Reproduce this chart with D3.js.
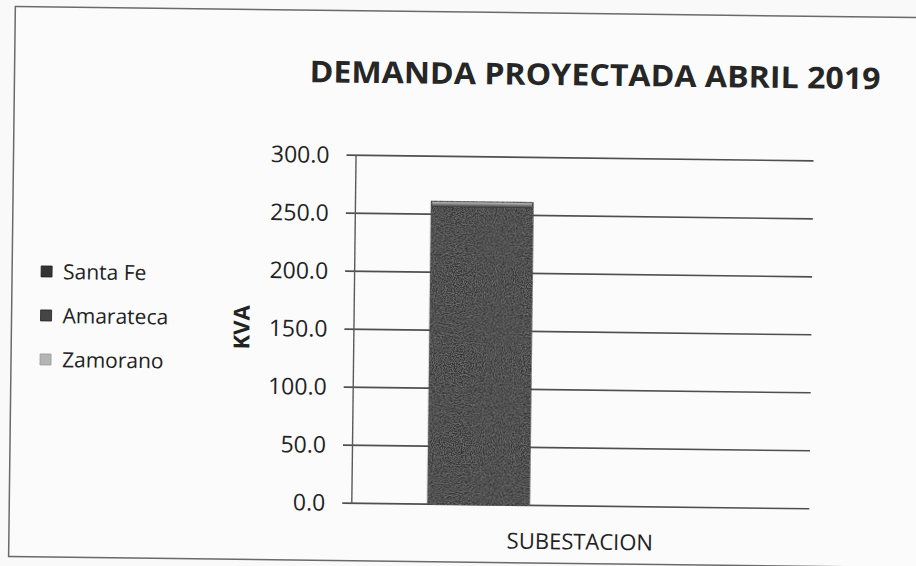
<!DOCTYPE html>
<html>
<head>
<meta charset="utf-8">
<script src="https://cdn.jsdelivr.net/npm/d3@7"></script>
<style>
  body { margin: 0; background: #f9f9f9; }
  text { font-family: "Open Sans", "DejaVu Sans", sans-serif; fill: #222; }
</style>
</head>
<body>
<div id="canvas"></div>
<script>
// chart data
var categories = ['SUBESTACION']
var seriesNames = ['Santa Fe', 'Amarateca', 'Zamorano']
var santaFe = [261]
var amarateca = [0]
var zamorano = [0]
var yTicks = [0, 50, 100, 150, 200, 250, 300]
var seriesColors = ['#343434', '#454545', '#b4b4b4']

var seriesValues = [santaFe, amarateca, zamorano]

var W = 916, H = 566
var svg = d3.select('#canvas').append('svg')
    .attr('width', W)
    .attr('height', H)

var defs = svg.append('defs')
// scan grain for the bar
var grain = defs.append('filter').attr('id', 'grain')
grain.append('feTurbulence').attr('type', 'fractalNoise').attr('baseFrequency', 0.9).attr('numOctaves', 2).attr('seed', 3).attr('result', 'noise')
grain.append('feColorMatrix').attr('in', 'noise').attr('type', 'matrix')
    .attr('values', '0 0 0 0 0.5  0 0 0 0 0.5  0 0 0 0 0.5  0 0 0 0.7 -0.25').attr('result', 'speck')
grain.append('feComposite').attr('in', 'speck').attr('in2', 'SourceGraphic').attr('operator', 'in').attr('result', 'clip')
grain.append('feMerge').selectAll('feMergeNode').data(['SourceGraphic', 'clip']).join('feMergeNode').attr('in', d => d)

var grad = defs.append('linearGradient').attr('id', 'bevel').attr('x1', 0).attr('x2', 0).attr('y1', 0).attr('y2', 1)
grad.append('stop').attr('offset', '0%').attr('stop-color', '#bdbdbd')
grad.append('stop').attr('offset', '100%').attr('stop-color', '#343434')

// the scan is a little tilted
var g = svg.append('g').attr('transform', 'rotate(0.7 458 283)')

g.append('rect')
    .attr('x', 12).attr('y', 12)
    .attr('width', 930).attr('height', 550)
    .attr('fill', '#fbfbfb')
    .attr('stroke', '#6a6a6a')
    .attr('stroke-width', 1.5)

g.append('text')
    .attr('x', 307).attr('y', 84)
    .attr('textLength', 571)
    .attr('lengthAdjust', 'spacingAndGlyphs')
    .style('font-size', '30px')
    .style('font-weight', 'bold')
    .style('fill', '#262626')
    .text('DEMANDA PROYECTADA  ABRIL 2019')

var plotL = 354, plotR = 812
var y = d3.scaleLinear().domain([0, 300]).range([504.5, 156.5])
var x = d3.scaleBand().domain(categories).range([plotL, plotR]).padding(0)
var xs = d3.scaleBand().domain(seriesNames).range([0, x.bandwidth()]).paddingOuter(0.75).paddingInner(0)

// gridlines
g.append('g').selectAll('line')
    .data(yTicks)
    .join('line')
    .attr('x1', plotL - 9).attr('x2', plotR)
    .attr('y1', d => y(d)).attr('y2', d => y(d))
    .attr('stroke', '#4f4f4f')
    .attr('stroke-width', 1.6)

// y axis
var yAxis = d3.axisLeft(y).tickValues(yTicks).tickFormat(d3.format('.1f')).tickSize(0).tickPadding(26)
var ya = g.append('g').attr('transform', 'translate(' + plotL + ',0)').call(yAxis)
ya.select('.domain').attr('stroke', '#5a5a5a').attr('stroke-width', 1.4)
ya.selectAll('text')
    .style('font-family', '"Open Sans", sans-serif')
    .style('font-size', '23px')
    .attr('fill', '#2a2a2a')

// bars
var bars = []
categories.forEach(function(c, ci) {
    seriesNames.forEach(function(s, si) {
        bars.push({cat: c, series: s, value: seriesValues[si][ci], color: seriesColors[si]})
    })
})

var barG = g.append('g')
barG.selectAll('rect.bar')
    .data(bars.filter(d => d.value > 0))
    .join('rect')
    .attr('class', 'bar')
    .attr('x', d => x(d.cat) + xs(d.series))
    .attr('width', xs.bandwidth())
    .attr('y', d => y(d.value))
    .attr('height', d => y(0) - y(d.value))
    .attr('fill', d => d.color)
    .attr('stroke', '#2a2a2a')
    .attr('stroke-width', 1)
    .attr('filter', 'url(#grain)')

// top bevel highlight
barG.selectAll('rect.bevel')
    .data(bars.filter(d => d.value > 0))
    .join('rect')
    .attr('class', 'bevel')
    .attr('x', d => x(d.cat) + xs(d.series) + 1)
    .attr('width', xs.bandwidth() - 2)
    .attr('y', d => y(d.value) + 0.5)
    .attr('height', 5)
    .attr('fill', 'url(#bevel)')

// category label
g.append('g').selectAll('text')
    .data(categories)
    .join('text')
    .attr('x', d => x(d) + x.bandwidth() / 2)
    .attr('y', 548)
    .attr('text-anchor', 'middle')
    .style('font-size', '22px')
    .text(d => d)

// y axis title
g.append('text')
    .attr('transform', 'translate(250,330) rotate(-90)')
    .attr('text-anchor', 'middle')
    .style('font-size', '22px')
    .style('font-weight', 'bold')
    .text('KVA')

// legend
var legend = g.append('g').selectAll('g')
    .data(seriesNames)
    .join('g')
    .attr('transform', (d, i) => 'translate(41,' + (284 + i * 44) + ')')
legend.append('rect')
    .attr('x', 0).attr('y', -13)
    .attr('width', 11).attr('height', 11)
    .attr('fill', (d, i) => seriesColors[i])
    .attr('stroke', (d, i) => i == 2 ? '#999' : '#222')
    .attr('stroke-width', 0.8)
legend.append('text')
    .attr('x', 22).attr('y', 0)
    .style('font-size', '21px')
    .text(d => d)
</script>
</body>
</html>
